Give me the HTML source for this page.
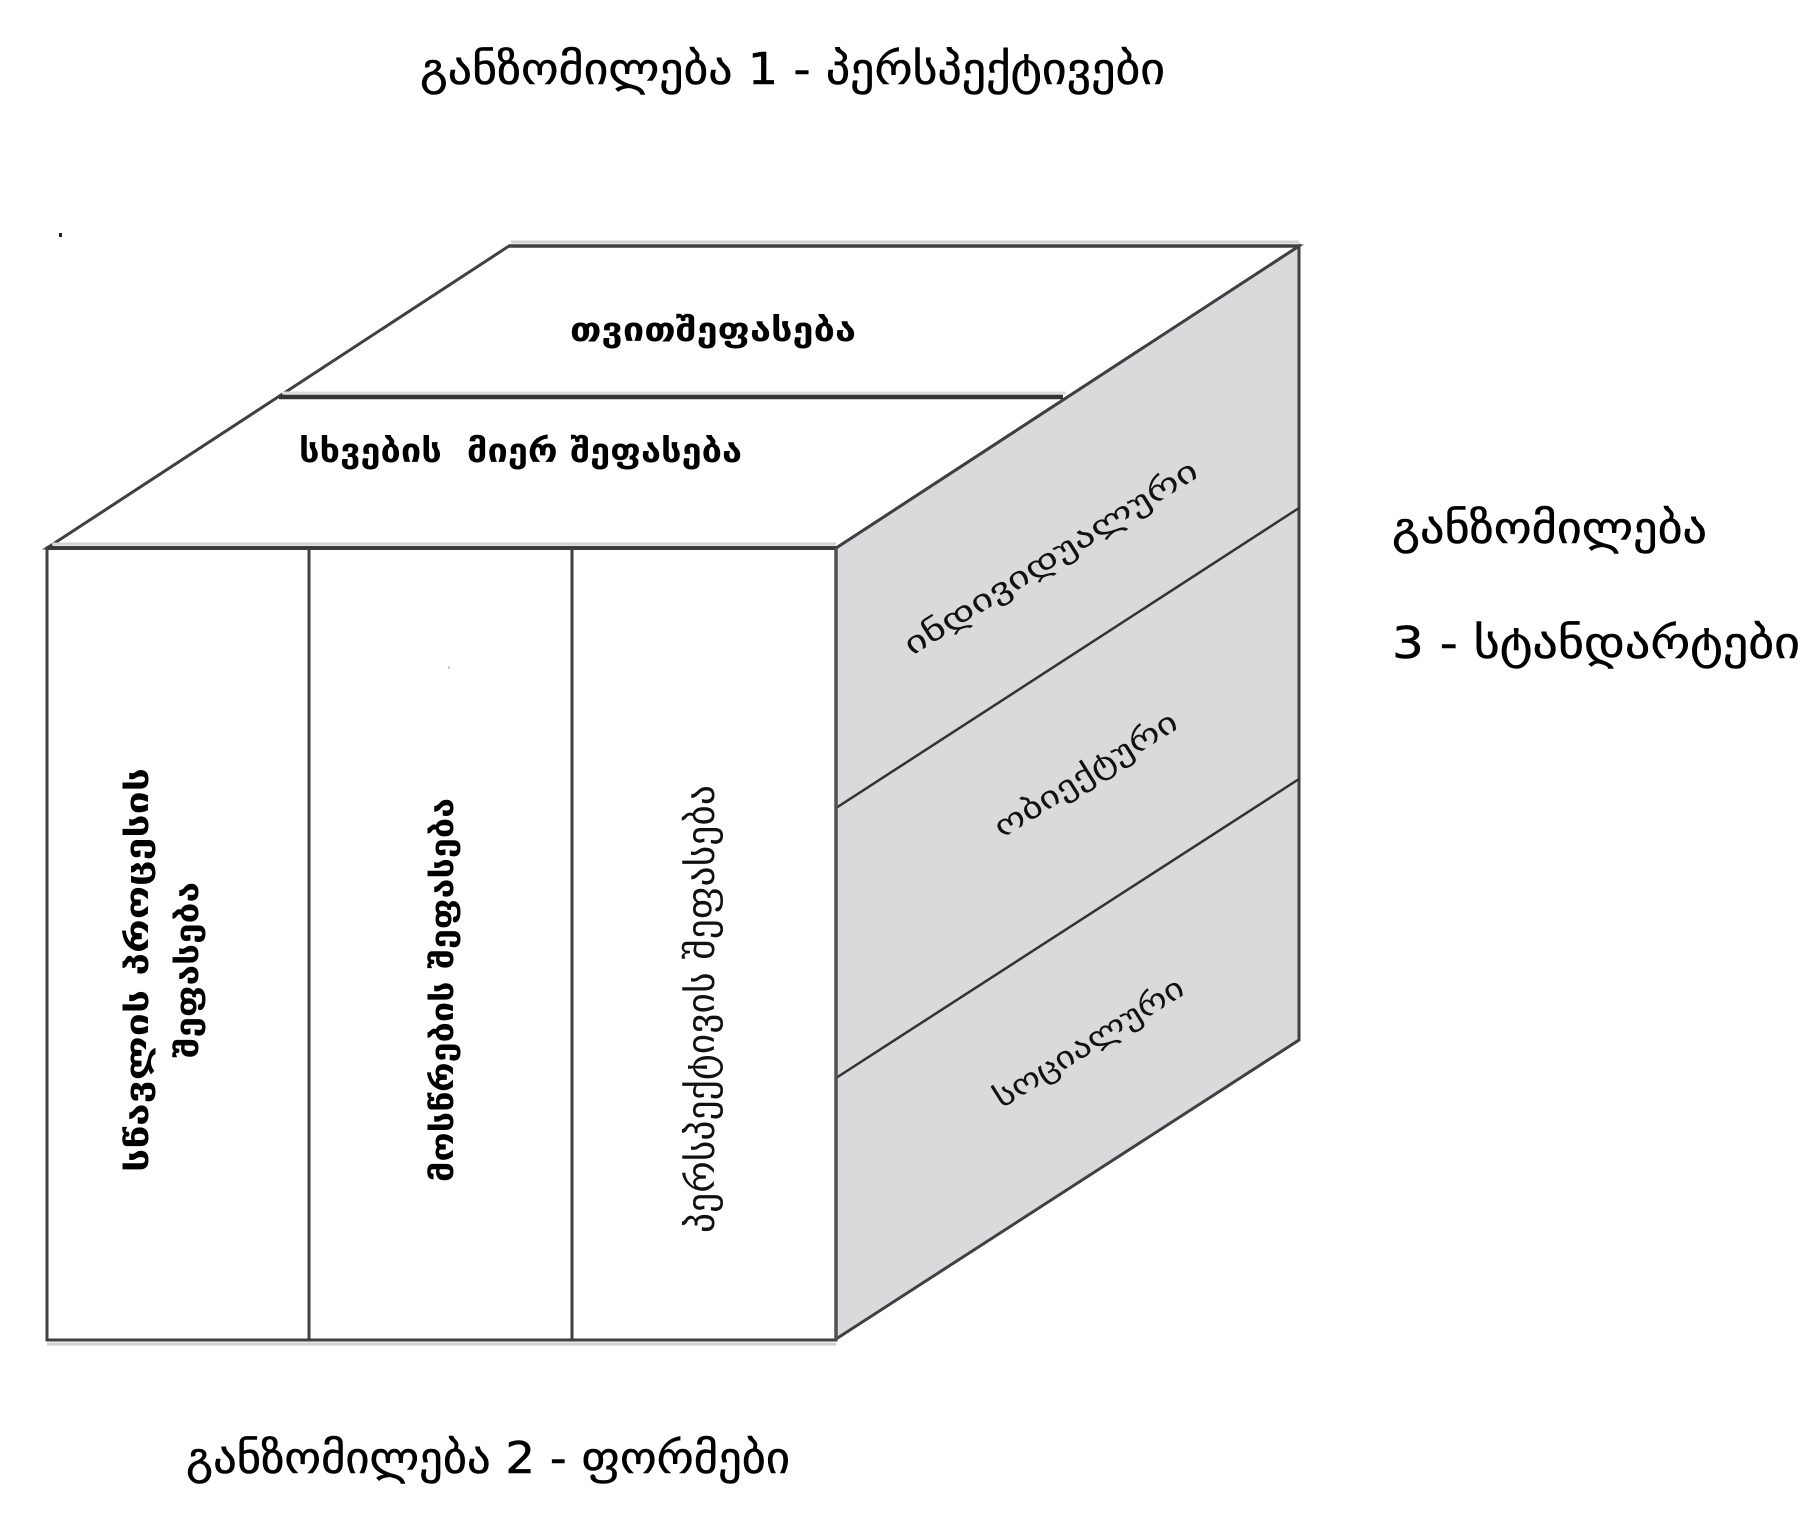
<!DOCTYPE html>
<html>
<head>
<meta charset="utf-8">
<style>
  html, body { margin: 0; padding: 0; background: #ffffff; }
  body { width: 1817px; height: 1535px; overflow: hidden; }
  svg { display: block; }
  .lbl { font-family: "DejaVu Sans", "Liberation Sans", sans-serif; font-size: 44px; fill: #000; stroke: #000; stroke-width: 0.5; }
  .b { font-family: "DejaVu Sans", "Liberation Sans", sans-serif; font-weight: bold; fill: #000; }
  .r { font-family: "DejaVu Sans", "Liberation Sans", sans-serif; fill: #111; }
</style>
</head>
<body>
<svg width="1817" height="1535" viewBox="0 0 1817 1535" xmlns="http://www.w3.org/2000/svg">
  <rect x="0" y="0" width="1817" height="1535" fill="#ffffff"/>

  <!-- small dot -->
  <rect x="59" y="233" width="3" height="4" fill="#222"/>

  <!-- right face -->
  <polygon points="836,548 1299,246 1299,1040 836,1339" fill="#dadadd" stroke="#404040" stroke-width="3" stroke-linejoin="miter"/>
  <!-- right face dividers -->
  <line x1="836" y1="808" x2="1299" y2="508" stroke="#333" stroke-width="2.5"/>
  <line x1="836" y1="1078" x2="1299" y2="779" stroke="#333" stroke-width="2.5"/>

  <!-- top face -->
  <polygon points="47,548 509,246 1299,246 836,548" fill="#ffffff" stroke="#404040" stroke-width="3" stroke-linejoin="miter"/>
  <!-- light shadow bands -->
  <line x1="511" y1="242" x2="1299" y2="242" stroke="#d2d2d2" stroke-width="3"/>
  <line x1="52" y1="544" x2="836" y2="544" stroke="#d2d2d2" stroke-width="3"/>
  <line x1="282" y1="393" x2="1066" y2="393" stroke="#dcdcdc" stroke-width="3"/>
  <!-- top middle line -->
  <line x1="279" y1="397" x2="1063" y2="397" stroke="#333" stroke-width="4.5"/>
  <line x1="47" y1="548" x2="836" y2="548" stroke="#3a3a3a" stroke-width="4"/>
  <line x1="509" y1="246" x2="1299" y2="246" stroke="#404040" stroke-width="3.5"/>

  <!-- front face -->
  <rect x="47" y="548" width="789" height="792" fill="#ffffff" stroke="#404040" stroke-width="3"/>
  <line x1="47" y1="548" x2="836" y2="548" stroke="#3a3a3a" stroke-width="4"/>
  <line x1="47" y1="1344" x2="836" y2="1344" stroke="#cfcfcf" stroke-width="3"/>
  <line x1="309" y1="548" x2="309" y2="1340" stroke="#404040" stroke-width="3"/>
  <line x1="572" y1="548" x2="572" y2="1340" stroke="#404040" stroke-width="3"/>
  <line x1="836" y1="548" x2="836" y2="1340" stroke="#505050" stroke-width="3.5"/>
  <rect x="448" y="666" width="2" height="3" fill="#d8cccc"/>

  <!-- top face labels -->
  <text class="b" x="570" y="341" font-size="33" textLength="286" lengthAdjust="spacingAndGlyphs">თვითშეფასება</text>
  <text class="b" x="299" y="462" font-size="33" textLength="443" lengthAdjust="spacingAndGlyphs" xml:space="preserve">სხვების  მიერ შეფასება</text>

  <!-- right face labels -->
  <text class="r" font-size="30" text-anchor="middle" textLength="340" lengthAdjust="spacingAndGlyphs" transform="translate(1056,566) rotate(-32)">ინდივიდუალური</text>
  <text class="r" font-size="30" text-anchor="middle" textLength="210" lengthAdjust="spacingAndGlyphs" transform="translate(1091,783) rotate(-32)">ობიექტური</text>
  <text class="r" font-size="30" text-anchor="middle" textLength="218" lengthAdjust="spacingAndGlyphs" transform="translate(1094,1051) rotate(-32)">სოციალური</text>

  <!-- front face column labels (rotated) -->
  <text class="b" font-size="31" text-anchor="middle" textLength="404" lengthAdjust="spacingAndGlyphs" transform="translate(148,970) rotate(-90)">სწავლის პროცესის</text>
  <text class="b" font-size="31" text-anchor="middle" textLength="176" lengthAdjust="spacingAndGlyphs" transform="translate(198,970) rotate(-90)">შეფასება</text>
  <text class="b" font-size="31" text-anchor="middle" textLength="384" lengthAdjust="spacingAndGlyphs" transform="translate(453,990) rotate(-90)">მოსწრების შეფასება</text>
  <text class="r" font-size="38" text-anchor="middle" textLength="448" lengthAdjust="spacingAndGlyphs" transform="translate(714,1009) rotate(-90)" fill="#000">პერსპექტივის შეფასება</text>

  <!-- dimension labels -->
  <text class="lbl" x="420" y="84" textLength="745" lengthAdjust="spacingAndGlyphs">განზომილება 1 - პერსპექტივები</text>
  <text class="lbl" x="1392" y="543" textLength="315" lengthAdjust="spacingAndGlyphs">განზომილება</text>
  <text class="lbl" x="1392" y="658" textLength="408" lengthAdjust="spacingAndGlyphs">3 - სტანდარტები</text>
  <text class="lbl" x="186" y="1473" textLength="604" lengthAdjust="spacingAndGlyphs">განზომილება 2 - ფორმები</text>
</svg>
</body>
</html>
